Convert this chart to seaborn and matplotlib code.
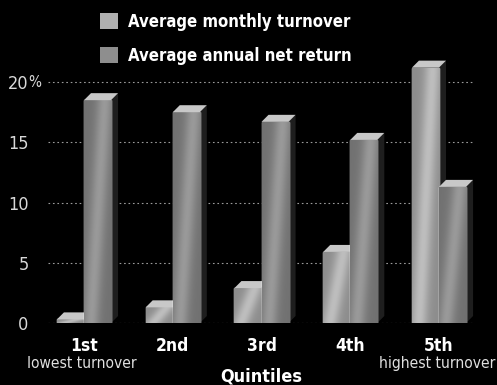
import numpy as np
import pandas as pd
import seaborn as sns
import matplotlib
matplotlib.use("Agg")
import matplotlib.pyplot as plt
from matplotlib.patches import Polygon

# ---- data ----
quintiles = ["1st", "2nd", "3rd", "4th", "5th"]
sublabels = ["lowest turnover", "", "", "", "highest turnover"]
series = ["Average monthly turnover", "Average annual net return"]
turnover = [0.3, 1.3, 2.9, 5.9, 21.2]
net_return = [18.5, 17.5, 16.7, 15.2, 11.3]
yticks = [0, 5, 10, 15, 20]
ytick_labels = ["0", "5", "10", "15", "20"]

df = pd.DataFrame({
    "Quintile": quintiles * 2,
    "Series": [series[0]] * len(quintiles) + [series[1]] * len(quintiles),
    "Value": turnover + net_return,
})

sns.set_theme(style="dark")
plt.rcParams["font.family"] = ["DejaVu Sans"]
plt.rcParams["font.stretch"] = "condensed"

fig = plt.figure(figsize=(4.97, 3.85), dpi=100, facecolor="black")
ax = fig.add_axes([48 / 497, 62 / 385, 427 / 497, 265 / 385])
ax.set_facecolor("black")

sns.barplot(data=df, x="Quintile", y="Value", hue="Series",
            palette=["#b0b0b0", "#8e8e8e"], width=0.61, saturation=1,
            ax=ax, legend=True, zorder=3)

ax.set_xlim(-0.4056, 4.4056)
ax.set_ylim(0, 22)

leg = ax.get_legend()
handles = leg.legend_handles
labels = [t.get_text() for t in leg.texts]
leg.remove()
for hd in handles:
    hd.set_edgecolor("none")

bars = [p for p in ax.patches]
t0 = ax.transData.transform((0, 0))
t1 = ax.transData.transform((1, 1))
dx = 7 / (t1[0] - t0[0])
dy = 7 / (t1[1] - t0[1])

ny, nx = 80, 40
u = np.linspace(0, 1, nx)[None, :]
v = np.linspace(0, 1, ny)[:, None]
for i, p in enumerate(bars):
    x0, w, h = p.get_x(), p.get_width(), p.get_height()
    if h <= 0:
        continue
    front = i >= len(quintiles)
    base = np.array(p.get_facecolor()[:3])
    streak = np.exp(-((u - 0.25 - 0.5 * v) / 0.3) ** 2)
    shade = 0.8 + 0.28 * streak
    img = np.clip(base[None, None, :] * shade[..., None], 0, 1)
    z = 3.4 if front else 3.0
    p.set_zorder(z)
    im = ax.imshow(img, extent=(x0, x0 + w, 0, h), origin="lower",
                   aspect="auto", zorder=z + 0.05, interpolation="bilinear")
    im.set_clip_path(p)
    side = Polygon([(x0 + w, 0), (x0 + w, h), (x0 + w + dx, h + dy), (x0 + w + dx, dy)],
                   closed=True, facecolor="#1e1e1e", edgecolor="none", zorder=2.9)
    ax.add_patch(side)
    top = Polygon([(x0, h), (x0 + w, h), (x0 + w + dx, h + dy), (x0 + dx, h + dy)],
                  closed=True, facecolor="#c8c8c8", edgecolor="none", zorder=z + 0.1)
    ax.add_patch(top)

ax.set_xlim(-0.4056, 4.4056)
ax.set_ylim(0, 22)

ax.set_axisbelow(True)
ax.yaxis.grid(True, color="#9a9a9a", linestyle=(0, (1.5, 2.5)), linewidth=0.8)
ax.xaxis.grid(False)
for s in ax.spines.values():
    s.set_visible(False)
ax.set_yticks(yticks)
ax.set_yticklabels(ytick_labels)
ax.tick_params(axis="y", length=0, pad=14, labelsize=13, labelcolor="#d8d8d8")
ax.tick_params(axis="x", length=0, pad=10, labelsize=12.5, labelcolor="white")
for t in ax.get_xticklabels():
    t.set_fontweight("bold")
ax.set_ylabel("")
ax.annotate("%", xy=(0, yticks[-1]), xycoords=("axes fraction", "data"),
            xytext=(-14.5, 0), textcoords="offset points", ha="left", va="center",
            fontsize=11, color="#d8d8d8")

for i, s in enumerate(sublabels):
    if s:
        ax.annotate(s, xy=(i, 0), xycoords=("data", "axes fraction"),
                    xytext=(-1.5, -29), textcoords="offset points",
                    ha="center", va="center", fontsize=11.2, color="#e0e0e0")

ax.set_xlabel("Quintiles", fontsize=13, fontweight="bold", color="white", va="center")
ax.xaxis.set_label_coords(0.5, -0.2)

fig.legend(handles, labels, loc="upper left", bbox_to_anchor=(100 / 497, 1 - 13 / 385),
           frameon=False, labelcolor="white",
           prop={"size": 12, "weight": "bold", "stretch": "condensed"},
           handlelength=1.1, handleheight=1.1, handletextpad=0.6,
           labelspacing=0.95, borderaxespad=0, borderpad=0)

fig.savefig("out.png", dpi=100, facecolor="black")
